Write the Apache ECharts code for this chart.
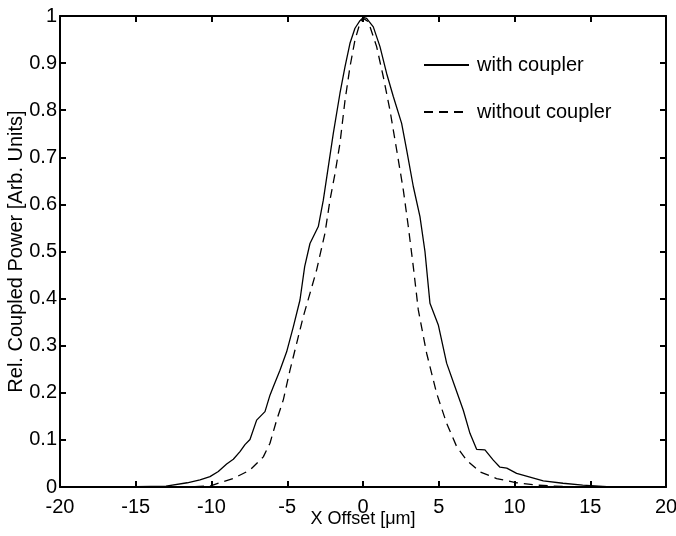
<!DOCTYPE html>
<html lang="en">

<head>
  <script src="https://cdn.jsdelivr.net/npm/echarts@6.0.0/dist/echarts.min.js"></script>
  <meta charset="UTF-8">
  <style>
    body { margin: 0; background: #fff; }
  </style>
</head>

<body>
  <div id="couplingChart" style="width: 676px;height:536px;"></div>

  <script type="text/javascript">

    // x offset [um] and relative power
    var withX = [-20, -15, -13, -11.6, -10.76, -10.1, -9.55, -9.0, -8.56, -8.12, -7.79, -7.46, -7.02, -6.47, -6.14,
      -5.92, -5.48, -5.04, -4.6, -4.16, -3.85, -3.5, -2.95, -2.62, -1.96, -1.52, -1.19, -0.86, -0.53, -0.2, 0.02,
      0.24, 0.68, 1.12, 1.56, 2.0, 2.55, 2.88, 3.32, 3.76, 4.09, 4.42, 4.97, 5.52, 6.07, 6.62, 7.06, 7.5, 8.05,
      8.6, 9.04, 9.49, 10.14, 11.02, 11.9, 13.2, 14.5, 16.1, 20];
    var withY = [0, 0.001, 0.002, 0.009, 0.015, 0.022, 0.033, 0.049, 0.059, 0.075, 0.09, 0.101, 0.142, 0.16, 0.195,
      0.213, 0.248, 0.287, 0.34, 0.397, 0.468, 0.517, 0.553, 0.609, 0.751, 0.836, 0.892, 0.942, 0.974, 0.99, 0.997,
      0.995, 0.977, 0.935, 0.878, 0.829, 0.772, 0.716, 0.638, 0.574, 0.5, 0.39, 0.344, 0.263, 0.213, 0.163, 0.114,
      0.08, 0.079, 0.057, 0.042, 0.04, 0.029, 0.021, 0.013, 0.008, 0.004, 0.001, 0];

    var withoutX = [-20, -12, -10.1, -9.44, -8.56, -7.46, -6.58, -6.14, -5.7, -5.26, -4.82, -4.38, -3.94, -3.5,
      -3.06, -2.51, -2.18, -1.85, -1.52, -1.19, -0.86, -0.53, -0.2, 0.02, 0.35, 0.9, 1.34, 1.78, 2.22, 2.66, 2.99,
      3.32, 3.65, 4.2, 4.86, 5.52, 6.18, 6.84, 7.72, 8.82, 10.14, 11.46, 13.2, 20];
    var withoutY = [0, 0, 0.002, 0.009, 0.018, 0.036, 0.064, 0.093, 0.142, 0.185, 0.248, 0.305, 0.362, 0.411,
      0.461, 0.539, 0.609, 0.665, 0.73, 0.82, 0.892, 0.949, 0.985, 0.995, 0.988, 0.935, 0.871, 0.80, 0.716, 0.631,
      0.553, 0.468, 0.376, 0.284, 0.199, 0.135, 0.086, 0.057, 0.032, 0.018, 0.009, 0.004, 0.001, 0];

    var seriesNames = ['with coupler', 'without coupler'];

    function pairs(xs, ys) {
      return xs.map((x, i) => [x, ys[i]]);
    }

    const font = 'Liberation Sans, Arial, sans-serif';
    const axisBase = {
      type: 'value',
      axisLine: { show: true, onZero: false, lineStyle: { color: '#000', width: 2 } },
      axisTick: { show: true, inside: true, length: 6, lineStyle: { color: '#000', width: 2 } },
      splitLine: { show: false }
    };

    const chart = echarts.init(document.getElementById('couplingChart'));

    let option = {
      animation: false,
      backgroundColor: '#fff',
      grid: { left: 60, right: 10, top: 16, bottom: 49, containLabel: false, outerBoundsMode: 'none' },
      legend: {
        orient: 'vertical',
        left: 423,
        top: 55,
        padding: 0,
        itemWidth: 45,
        itemHeight: 14,
        itemGap: 27,
        data: seriesNames,
        itemStyle: { opacity: 0 },
        textStyle: { fontFamily: font, fontSize: 20, color: '#000', padding: [0, 0, 0, 3] }
      },
      xAxis: [
        Object.assign({}, axisBase, {
          min: -20, max: 20, interval: 5,
          position: 'bottom',
          name: 'X Offset [\u03bcm]',
          nameLocation: 'middle',
          nameGap: 23,
          nameMoveOverlap: false,
          nameTextStyle: { fontFamily: font, fontSize: 18, color: '#000' },
          axisLabel: { margin: 10, fontFamily: font, fontSize: 20, color: '#000' }
        }),
        Object.assign({}, axisBase, {
          min: -20, max: 20, interval: 5,
          position: 'top',
          axisLabel: { show: false }
        })
      ],
      yAxis: [
        Object.assign({}, axisBase, {
          min: 0, max: 1, interval: 0.1,
          position: 'left',
          name: 'Rel. Coupled Power [Arb. Units]',
          nameLocation: 'middle',
          nameGap: 34,
          nameMoveOverlap: false,
          nameTextStyle: { fontFamily: font, fontSize: 20, color: '#000' },
          axisLabel: { margin: 3, fontFamily: font, fontSize: 20, color: '#000' }
        }),
        Object.assign({}, axisBase, {
          min: 0, max: 1, interval: 0.1,
          position: 'right',
          axisLabel: { show: false }
        })
      ],
      series: [
        {
          name: seriesNames[0],
          type: 'line',
          data: pairs(withX, withY),
          symbol: 'none',
          symbolSize: 0,
          lineStyle: { color: '#000', width: 1.3, type: 'solid' },
          itemStyle: { color: '#000' }
        },
        {
          name: seriesNames[1],
          type: 'line',
          data: pairs(withoutX, withoutY),
          symbol: 'none',
          symbolSize: 0,
          lineStyle: { color: '#000', width: 1.3, type: [9, 6] },
          itemStyle: { color: '#000' }
        }
      ]
    };

    chart.setOption(option);
  </script>
</body>

</html>
